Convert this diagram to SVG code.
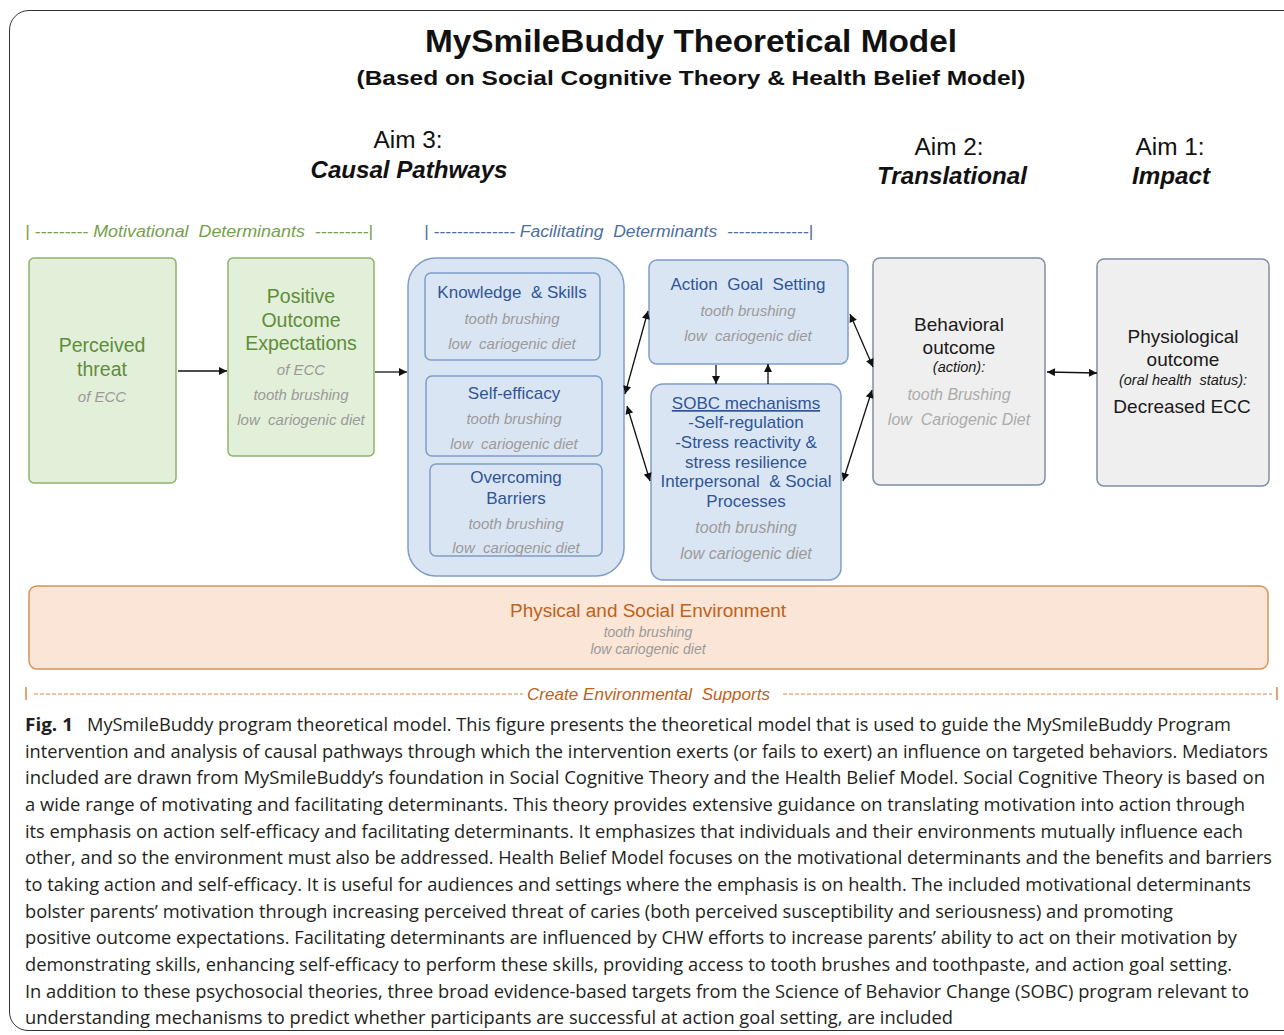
<svg xmlns="http://www.w3.org/2000/svg" width="1284" height="1035" viewBox="0 0 1284 1035">
<defs>
<style>
.sans{font-family:"Liberation Sans",Arial,sans-serif}
.narrow{font-family:"Liberation Sans Narrow","Liberation Sans",Arial,sans-serif}
.cap{font-family:"Open Sans","Noto Sans","Liberation Sans",sans-serif;font-size:18px;fill:#231f20}
.green{fill:#e2efd9;stroke:#8db26c;stroke-width:1.5}
.blue{fill:#dae5f3;stroke:#7f9dc9;stroke-width:1.5}
.gray{fill:#efefef;stroke:#7d8fa8;stroke-width:1.5}
.env{fill:#fbe5d6;stroke:#d3935e;stroke-width:1.5}
.gt{fill:#5e8d3a;font-size:19.5px;text-anchor:middle}
.bt{fill:#2f5597;font-size:17px;text-anchor:middle}
.kt{fill:#1a1a1a;font-size:19px;text-anchor:middle}
.kts{fill:#1a1a1a;font-size:14.5px;font-style:italic;text-anchor:middle}
.sub{fill:#9a9a9a;font-size:15px;font-style:italic;text-anchor:middle}
.sub16{fill:#9a9a9a;font-size:16px;font-style:italic;text-anchor:middle}
.subl{fill:#ababab;font-size:16px;font-style:italic;text-anchor:middle}
.sub14{fill:#9a9a9a;font-size:14px;font-style:italic;text-anchor:middle}
.conn{stroke:#111;stroke-width:1.3;fill:none}
</style>
<marker id="ah" viewBox="0 0 10 10" refX="10" refY="5" markerWidth="9" markerHeight="8" markerUnits="userSpaceOnUse" orient="auto-start-reverse">
<path d="M0,0 L10,5 L0,10 z" fill="#111"/>
</marker>
</defs>

<path d="M1284,10.5 L29,10.5 A19.5,19.5 0 0 0 9.5,30 L9.5,1012 A18.5,18.5 0 0 0 28,1030.5 L1284,1030.5" fill="none" stroke="#333" stroke-width="1"/>

<g id="titles" class="narrow">
<text x="691" y="52" font-size="32" font-weight="bold" text-anchor="middle" fill="#111" textLength="532" lengthAdjust="spacingAndGlyphs">MySmileBuddy Theoretical Model</text>
<text x="691" y="85" font-size="21" font-weight="bold" text-anchor="middle" fill="#111" textLength="669" lengthAdjust="spacingAndGlyphs">(Based on Social Cognitive Theory &amp; Health Belief Model)</text>
<text x="408" y="148" font-size="23" text-anchor="middle" fill="#111" textLength="69" lengthAdjust="spacingAndGlyphs">Aim 3:</text>
<text x="409" y="178" font-size="24" font-weight="bold" font-style="italic" text-anchor="middle" fill="#111" textLength="197" lengthAdjust="spacingAndGlyphs">Causal Pathways</text>
<text x="949" y="155" font-size="23" text-anchor="middle" fill="#111" textLength="69" lengthAdjust="spacingAndGlyphs">Aim 2:</text>
<text x="952" y="184" font-size="24" font-weight="bold" font-style="italic" text-anchor="middle" fill="#111" textLength="150" lengthAdjust="spacingAndGlyphs">Translational</text>
<text x="1170" y="155" font-size="23" text-anchor="middle" fill="#111" textLength="69" lengthAdjust="spacingAndGlyphs">Aim 1:</text>
<text x="1171" y="184" font-size="24" font-weight="bold" font-style="italic" text-anchor="middle" fill="#111" textLength="78" lengthAdjust="spacingAndGlyphs">Impact</text>
<text x="25" y="237" font-size="16" font-style="italic" fill="#76a04c" textLength="348" lengthAdjust="spacingAndGlyphs" xml:space="preserve">| --------- Motivational  Determinants  ---------|</text>
<text x="424" y="237" font-size="16" font-style="italic" fill="#4d6e9f" textLength="389" lengthAdjust="spacingAndGlyphs" xml:space="preserve">| -------------- Facilitating  Determinants  --------------|</text>
</g>

<g id="perceived-threat" class="sans">
<rect class="green" x="29" y="258" width="147" height="225" rx="5"/>
<text class="gt" x="102" y="352">Perceived</text>
<text class="gt" x="102" y="376">threat</text>
<text class="sub" x="102" y="402">of ECC</text>
</g>

<g id="positive-outcome" class="sans">
<rect class="green" x="228" y="258" width="146" height="198" rx="5"/>
<text class="gt" x="301" y="303">Positive</text>
<text class="gt" x="301" y="327">Outcome</text>
<text class="gt" x="301" y="350">Expectations</text>
<text class="sub" x="301" y="375">of ECC</text>
<text class="sub" x="301" y="400">tooth brushing</text>
<text class="sub" x="301" y="425" xml:space="preserve">low  cariogenic diet</text>
</g>

<g id="facilitating-container" class="sans">
<rect class="blue" x="408" y="258" width="216" height="318" rx="28"/>
<g id="knowledge-skills">
<rect class="blue" x="425" y="273" width="175" height="87" rx="6"/>
<text class="bt" x="512" y="298" xml:space="preserve">Knowledge  &amp; Skills</text>
<text class="sub" x="512" y="324">tooth brushing</text>
<text class="sub" x="512" y="349" xml:space="preserve">low  cariogenic diet</text>
</g>
<g id="self-efficacy">
<rect class="blue" x="426" y="376" width="176" height="80" rx="6"/>
<text class="bt" x="514" y="399">Self-efficacy</text>
<text class="sub" x="514" y="424">tooth brushing</text>
<text class="sub" x="514" y="449" xml:space="preserve">low  cariogenic diet</text>
</g>
<g id="overcoming-barriers">
<rect class="blue" x="430" y="464" width="172" height="92" rx="6"/>
<text class="bt" x="516" y="483">Overcoming</text>
<text class="bt" x="516" y="504">Barriers</text>
<text class="sub" x="516" y="529">tooth brushing</text>
<text class="sub" x="516" y="553" xml:space="preserve">low  cariogenic diet</text>
</g>
</g>

<g id="action-goal-setting" class="sans">
<rect class="blue" x="649" y="260" width="199" height="104" rx="8"/>
<text class="bt" x="748" y="290" xml:space="preserve">Action  Goal  Setting</text>
<text class="sub" x="748" y="316">tooth brushing</text>
<text class="sub" x="748" y="341" xml:space="preserve">low  cariogenic diet</text>
</g>

<g id="sobc-mechanisms" class="sans">
<rect class="blue" x="651" y="384" width="190" height="196" rx="12"/>
<text class="bt" x="746" y="409" text-decoration="underline">SOBC mechanisms</text>
<text class="bt" x="746" y="428">-Self-regulation</text>
<text class="bt" x="746" y="448">-Stress reactivity &amp;</text>
<text class="bt" x="746" y="468">stress resilience</text>
<text class="bt" x="746" y="487" xml:space="preserve">Interpersonal  &amp; Social</text>
<text class="bt" x="746" y="507">Processes</text>
<text class="sub16" x="746" y="533">tooth brushing</text>
<text class="sub16" x="746" y="559">low cariogenic diet</text>
</g>

<g id="behavioral-outcome" class="sans">
<rect class="gray" x="873" y="258" width="172" height="227" rx="7"/>
<text class="kt" x="959" y="331">Behavioral</text>
<text class="kt" x="959" y="354">outcome</text>
<text class="kts" x="959" y="372">(action):</text>
<text class="subl" x="959" y="400">tooth Brushing</text>
<text class="subl" x="959" y="425" xml:space="preserve">low  Cariogenic Diet</text>
</g>

<g id="physiological-outcome" class="sans">
<rect class="gray" x="1097" y="259" width="172" height="227" rx="7"/>
<text class="kt" x="1183" y="343">Physiological</text>
<text class="kt" x="1183" y="366">outcome</text>
<text class="kts" x="1183" y="385" xml:space="preserve">(oral health  status):</text>
<text class="kt" x="1182" y="413">Decreased ECC</text>
</g>

<g id="environment" class="sans">
<rect class="env" x="29" y="586" width="1239" height="83" rx="8"/>
<text x="648" y="617" font-size="18" fill="#c0611a" text-anchor="middle" textLength="276" lengthAdjust="spacingAndGlyphs">Physical and Social Environment</text>
<text class="sub14" x="648" y="637">tooth brushing</text>
<text class="sub14" x="648" y="654">low cariogenic diet</text>
</g>

<g id="env-supports" class="narrow">
<line x1="26" y1="687" x2="26" y2="700" stroke="#d9874a" stroke-width="1.5"/>
<line x1="34" y1="694" x2="523" y2="694" stroke="#d9874a" stroke-width="1" stroke-dasharray="4,2"/>
<text x="527" y="700" font-size="17" font-style="italic" fill="#c0611a" textLength="243" lengthAdjust="spacingAndGlyphs" xml:space="preserve">Create Environmental  Supports</text>
<line x1="783" y1="694" x2="1272" y2="694" stroke="#d9874a" stroke-width="1" stroke-dasharray="4,2"/>
<line x1="1277" y1="687" x2="1277" y2="700" stroke="#d9874a" stroke-width="1.5"/>
</g>

<g id="connectors" class="conn">
<line x1="178" y1="371" x2="227" y2="371" marker-end="url(#ah)"/>
<line x1="375" y1="372" x2="407" y2="372" marker-end="url(#ah)"/>
<line x1="625" y1="394" x2="648" y2="311" marker-start="url(#ah)" marker-end="url(#ah)"/>
<line x1="627" y1="406" x2="650" y2="481" marker-start="url(#ah)" marker-end="url(#ah)"/>
<line x1="716" y1="365" x2="716" y2="384" marker-end="url(#ah)"/>
<line x1="768" y1="384" x2="768" y2="364" marker-end="url(#ah)"/>
<line x1="850" y1="314" x2="873" y2="367" marker-start="url(#ah)" marker-end="url(#ah)"/>
<line x1="872" y1="390" x2="843" y2="481" marker-start="url(#ah)" marker-end="url(#ah)"/>
<line x1="1047" y1="372" x2="1097" y2="373" marker-start="url(#ah)" marker-end="url(#ah)"/>
</g>

<g id="caption">
<text class="cap" x="25" y="731" font-weight="bold" textLength="48" lengthAdjust="spacingAndGlyphs">Fig. 1</text>
<text class="cap" x="87" y="731" textLength="1144" lengthAdjust="spacingAndGlyphs">MySmileBuddy program theoretical model. This figure presents the theoretical model that is used to guide the MySmileBuddy Program</text>
<text class="cap" x="25" y="758" textLength="1243" lengthAdjust="spacingAndGlyphs">intervention and analysis of causal pathways through which the intervention exerts (or fails to exert) an influence on targeted behaviors. Mediators</text>
<text class="cap" x="25" y="784" textLength="1240" lengthAdjust="spacingAndGlyphs">included are drawn from MySmileBuddy’s foundation in Social Cognitive Theory and the Health Belief Model. Social Cognitive Theory is based on</text>
<text class="cap" x="25" y="811" textLength="1220" lengthAdjust="spacingAndGlyphs">a wide range of motivating and facilitating determinants. This theory provides extensive guidance on translating motivation into action through</text>
<text class="cap" x="25" y="838" textLength="1218" lengthAdjust="spacingAndGlyphs">its emphasis on action self-efficacy and facilitating determinants. It emphasizes that individuals and their environments mutually influence each</text>
<text class="cap" x="25" y="864" textLength="1247" lengthAdjust="spacingAndGlyphs">other, and so the environment must also be addressed. Health Belief Model focuses on the motivational determinants and the benefits and barriers</text>
<text class="cap" x="25" y="891" textLength="1226" lengthAdjust="spacingAndGlyphs">to taking action and self-efficacy. It is useful for audiences and settings where the emphasis is on health. The included motivational determinants</text>
<text class="cap" x="25" y="918" textLength="1148" lengthAdjust="spacingAndGlyphs">bolster parents’ motivation through increasing perceived threat of caries (both perceived susceptibility and seriousness) and promoting</text>
<text class="cap" x="25" y="944" textLength="1212" lengthAdjust="spacingAndGlyphs">positive outcome expectations. Facilitating determinants are influenced by CHW efforts to increase parents’ ability to act on their motivation by</text>
<text class="cap" x="25" y="971" textLength="1207" lengthAdjust="spacingAndGlyphs">demonstrating skills, enhancing self-efficacy to perform these skills, providing access to tooth brushes and toothpaste, and action goal setting.</text>
<text class="cap" x="25" y="998" textLength="1224" lengthAdjust="spacingAndGlyphs">In addition to these psychosocial theories, three broad evidence-based targets from the Science of Behavior Change (SOBC) program relevant to</text>
<text class="cap" x="25" y="1024" textLength="928" lengthAdjust="spacingAndGlyphs">understanding mechanisms to predict whether participants are successful at action goal setting, are included</text>
</g>
</svg>
